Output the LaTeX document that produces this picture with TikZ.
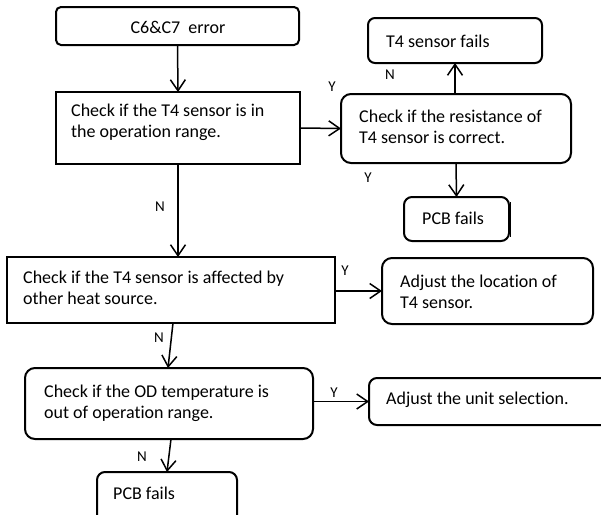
\documentclass[tikz,border=0pt]{standalone}
\usepackage{fontspec}
\setmainfont[Ligatures=NoCommon]{Carlito}
\usetikzlibrary{arrows.meta,calc}
\begin{document}
\begin{tikzpicture}[x=1pt,y=-1pt,
  boxsharp/.style={draw, line width=2pt, rectangle, inner sep=0pt, outer sep=0pt},
  boxround/.style={boxsharp, rounded corners=8pt},
  conn/.style={line width=1.5pt, -{Straight Barb[length=11pt,width=15pt,line width=1.5pt]}},
  txt/.style={inner sep=0pt, anchor=west, align=left, font=\fontsize{18}{21}\selectfont},
  yn/.style={inner sep=0pt, font=\fontsize{15}{17}\selectfont}]
\useasboundingbox (0,0) rectangle (601,514);
\fill[white] (0,0) rectangle (601,514);
\clip (0,0) rectangle (601,514);

% boxes
\node[boxround, rounded corners=5pt, minimum width=243pt, minimum height=38pt] (b1) at (177.5,26) {};
\node[boxsharp, minimum width=244pt, minimum height=72pt] (b2) at (178,128) {};
\node[boxround, rounded corners=10pt, minimum width=230pt, minimum height=69pt] (b3) at (456,128.5) {};
\node[boxround, rounded corners=7pt, minimum width=174pt, minimum height=45pt] (b4) at (455,40.5) {};
\node[boxround, minimum width=105pt, minimum height=44pt] (b5) at (456.5,219) {};
\node[boxsharp, minimum width=328pt, minimum height=66pt] (b6) at (171,290) {};
\node[boxround, rounded corners=10pt, minimum width=211pt, minimum height=66pt] (b7) at (487.5,291) {};
\node[boxround, rounded corners=10pt, minimum width=288pt, minimum height=71pt] (b8) at (169,403.5) {};
\node[boxround, minimum width=251pt, minimum height=47pt] (b9) at (494.5,401.5) {};
\node[boxround, minimum width=140pt, minimum height=58pt] (b10) at (167,501) {};

% thicker right edge of first PCB box
\draw[line width=1.6pt] ([shift={(1.6pt,-5pt)}]b5.north east) -- ([shift={(1.6pt,4pt)}]b5.south east);

% texts
\node[txt, anchor=center] (t1) at (178,27) {C6\&C7\ \ error};
\node[txt] (t2) at (71,122) {Check if the T4 sensor is in\\the operation range.};
\node[txt] (t3) at (359,127) {Check if the resistance of\\T4 sensor is correct.};
\node[txt] (t4) at (386,41) {T4 sensor fails};
\node[txt] (t5) at (422,218) {PCB fails};
\node[txt] (t6) at (23,287.5) {Check if the T4 sensor is affected by\\other heat source.};
\node[txt] (t7) at (400,292) {Adjust the location of\\T4 sensor.};
\node[txt] (t8) at (44,403) {Check if the OD temperature is\\out of operation range.};
\node[txt] (t9) at (386,400) {Adjust the unit selection.};
\node[txt] (t10) at (113,493) {PCB fails};

% connectors
\draw[conn] (b1.south) -- (b2.north);
\draw[conn] (b2.east) -- (b3.west);
\draw[conn] (b3.north -| b4.south) -- (b4.south);
\draw[conn] (b3.south) -- (b5.north);
\draw[conn] (b2.south) -- (b2.south |- b6.north);
\draw[conn] (b6.east |- b7.west) -- (b7.west);
\draw[conn] ([xshift=2pt]b6.south) -- ([xshift=-1pt]b8.north);
\draw[conn] (b8.east |- b9.west) -- (b9.west);
\draw[conn] ([xshift=2pt]b8.south) -- (b10.north);

% labels
\node[yn] (l1) at (332,87) {Y};
\node[yn] (l2) at (390,75) {N};
\node[yn] (l3) at (368,178) {Y};
\node[yn] (l4) at (160,207) {N};
\node[yn] (l5) at (345,271) {Y};
\node[yn] (l6) at (159,338) {N};
\node[yn] (l7) at (334,393) {Y};
\node[yn] (l8) at (142,457) {N};
\end{tikzpicture}
\end{document}
